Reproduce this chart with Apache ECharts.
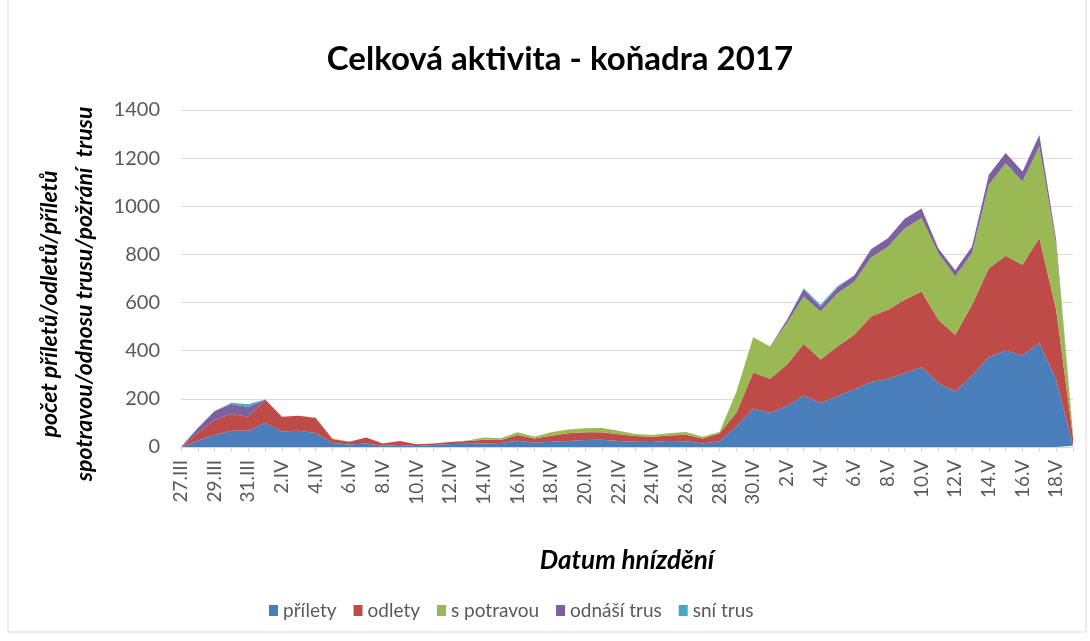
<!DOCTYPE html>
<html>
<head>
<meta charset="utf-8">
<script src="https://cdn.jsdelivr.net/npm/echarts@6/dist/echarts.min.js"></script>
<style>
  html, body { margin: 0; padding: 0; background: #fff; }
  #chart { width: 1090px; height: 641px; }
</style>
</head>
<body>
<div id="chart"></div>
<script>
// Nesting days, 27.III – 19.V 2017
const dates = [
  '27.III','28.III','29.III','30.III','31.III',
  '1.IV','2.IV','3.IV','4.IV','5.IV','6.IV','7.IV','8.IV','9.IV','10.IV',
  '11.IV','12.IV','13.IV','14.IV','15.IV','16.IV','17.IV','18.IV','19.IV','20.IV',
  '21.IV','22.IV','23.IV','24.IV','25.IV','26.IV','27.IV','28.IV','29.IV','30.IV',
  '1.V','2.V','3.V','4.V','5.V','6.V','7.V','8.V','9.V','10.V',
  '11.V','12.V','13.V','14.V','15.V','16.V','17.V','18.V','19.V'
];

const prilety = [0,26,50,68,68,101,64,68,58,17, 10,15,5,8,4,8,12,14,15,17,
  26,18,22,25,29,30,25,22,21,25, 24,15,24,85,159,142,170,214,183,211,
  239,270,283,306,331,266,231,296,374,400, 381,432,280,5];

const odlety = [0,32,62,69,58,96,62,62,62,16, 12,24,10,17,7,7,9,11,15,12,
  24,17,25,32,32,31,28,24,22,23, 27,20,33,57,151,142,172,215,180,207,
  227,272,287,306,315,263,235,295,369,394, 376,436,290,35];

const sPotravou = [0,0,0,0,0,0,0,0,3,2, 0,0,0,0,0,0,0,2,9,7,
  11,8,14,16,17,18,15,8,7,9, 11,8,5,88,146,134,172,196,200,220,
  221,245,262,296,305,276,243,214,346,385, 346,380,270,15];

const odnasiTrus = [0,21,38,42,40,0,0,0,0,0, 0,0,0,0,0,0,0,0,0,0,
  0,0,0,0,0,0,0,0,0,0, 0,0,0,0,0,0,14,30,20,25,
  25,35,35,40,40,20,25,28,42,42, 42,48,20,5];

const sniTrus = [0,0,0,5,12,0,0,0,0,0, 0,0,0,0,0,0,0,0,0,0,
  0,0,0,0,0,0,0,0,0,0, 0,0,0,0,0,0,0,5,8,5,
  0,0,0,0,0,0,0,0,0,0, 0,0,0,0];

const seriesNames = ['přílety', 'odlety', 's potravou', 'odnáší trus', 'sní trus'];
const seriesValues = [prilety, odlety, sPotravou, odnasiTrus, sniTrus];
const seriesColors = ['#4a7ebb', '#be4b48', '#98b954', '#7d60a0', '#46aac5'];

const yTicks = { min: 0, max: 1400, step: 200 };

const yTitleLines = ['počet příletů/odletů/příletů', 'spotravou/odnosu trusu/požrání  trusu'];

const FONT = 'Lato, "Liberation Sans", sans-serif';

const chart = echarts.init(document.getElementById('chart'), null, { renderer: 'canvas' });

// vertical axis title, one rotated text per line
const yTitle = yTitleLines.map((line, i) => ({
  type: 'text',
  x: [50, 85][i],
  y: [304, 294][i],
  rotation: Math.PI / 2,
  style: {
    text: line,
    font: 'italic bold 23px ' + FONT,
    fill: '#000',
    align: 'center',
    verticalAlign: 'middle'
  }
}));

chart.setOption({
  backgroundColor: '#ffffff',
  animation: false,
  title: {
    text: 'Celková aktivita - koňadra 2017',
    left: 555,
    textAlign: 'center',
    top: 38,
    textStyle: { fontFamily: FONT, fontSize: 33, fontWeight: 'bold', color: '#000' }
  },
  legend: {
    data: seriesNames,
    top: 596,
    left: 264,
    icon: 'rect',
    itemWidth: 9,
    itemHeight: 11,
    itemGap: 17,
    textStyle: { fontFamily: FONT, fontSize: 19, color: '#595959' }
  },
  grid: { left: 181, right: 17, top: 110, bottom: 194, containLabel: false },
  xAxis: {
    type: 'category',
    data: dates,
    boundaryGap: false,
    name: 'Datum hnízdění',
    nameLocation: 'middle',
    nameGap: 101,
    nameTextStyle: { fontFamily: FONT, fontSize: 26, fontWeight: 'bold', fontStyle: 'italic', color: '#000' },
    axisLine: { lineStyle: { color: '#d9d9d9', width: 1 } },
    axisTick: { show: true, interval: 0, length: 5, lineStyle: { color: '#d9d9d9' } },
    axisLabel: { interval: 1, rotate: 90, margin: 13, fontFamily: FONT, fontSize: 19, color: '#595959' }
  },
  yAxis: {
    type: 'value',
    min: yTicks.min,
    max: yTicks.max,
    interval: yTicks.step,
    axisLine: { show: false },
    axisTick: { show: false },
    splitLine: { lineStyle: { color: '#d9d9d9', width: 1 } },
    axisLabel: {
      margin: 21, fontFamily: FONT, fontSize: 20, color: '#595959',
      formatter: (v) => String(v)
    }
  },
  graphic: [
    {
      type: 'rect',
      shape: { x: 8, y: -2, width: 1078, height: 634 },
      style: { fill: 'none', stroke: '#d9d9d9', lineWidth: 1 },
      silent: true
    }
  ].concat(yTitle),
  series: seriesNames.map((name, i) => ({
    name: name,
    type: 'line',
    stack: 'total',
    data: seriesValues[i],
    symbol: 'none',
    color: seriesColors[i],
    lineStyle: { width: 0 },
    areaStyle: { color: seriesColors[i], opacity: 1 }
  }))
});
</script>
</body>
</html>
